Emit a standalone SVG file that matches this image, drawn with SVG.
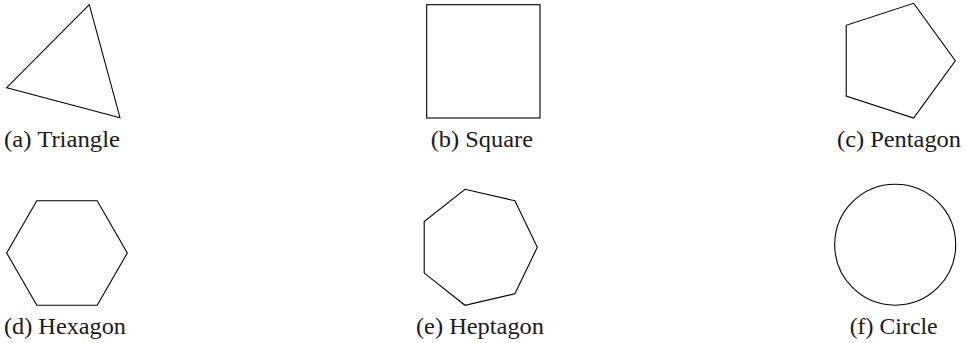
<svg xmlns="http://www.w3.org/2000/svg" width="967" height="343" viewBox="0 0 967 343">
<style>
.s{fill:none;stroke:#000;stroke-width:1.1;stroke-linejoin:miter}
.t{font-family:"Liberation Serif","Times New Roman",serif;font-size:23px;fill:#1a1a1a}
</style>
<rect width="967" height="343" fill="#fff"/>
<g id="triangle">
<polygon class="s" points="89.3,4.7 6.7,87.7 120,117.7"/>
<text class="t" x="4" y="146.7" textLength="116" lengthAdjust="spacingAndGlyphs">(a) Triangle</text>
</g>
<g id="square">
<rect class="s" x="426.7" y="4.7" width="113.3" height="113.3"/>
<text class="t" x="430.7" y="146.7" textLength="102.3" lengthAdjust="spacingAndGlyphs">(b) Square</text>
</g>
<g id="pentagon">
<polygon class="s" points="913.6,3.3 955.3,60.7 913.6,118.1 846.2,96.1 846.2,25.3"/>
<text class="t" x="837" y="146.7" textLength="124" lengthAdjust="spacingAndGlyphs">(c) Pentagon</text>
</g>
<g id="hexagon">
<polygon class="s" points="36.8,200.8 97.2,200.8 127.3,253 97.2,305.2 36.8,305.2 6.7,253"/>
<text class="t" x="4" y="334" textLength="122" lengthAdjust="spacingAndGlyphs">(d) Hexagon</text>
</g>
<g id="heptagon">
<polygon class="s" points="537.3,247.3 514.9,293.8 465,305.3 424.2,273.1 424.2,221.5 465,189.3 514.9,200.8"/>
<text class="t" x="416" y="334" textLength="128" lengthAdjust="spacingAndGlyphs">(e) Heptagon</text>
</g>
<g id="circle">
<circle class="s" cx="895.2" cy="244.7" r="60.5"/>
<text class="t" x="849.7" y="334" textLength="88" lengthAdjust="spacingAndGlyphs">(f) Circle</text>
</g>
<g id="connectors"/>
</svg>
